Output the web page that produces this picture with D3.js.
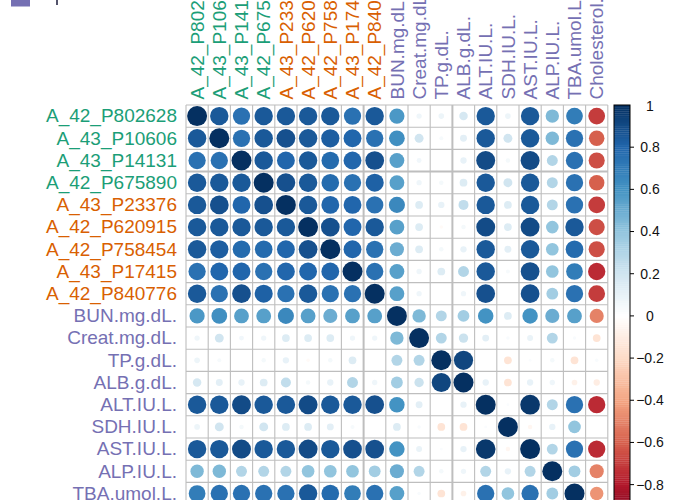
<!DOCTYPE html>
<html><head><meta charset="utf-8">
<script src="https://cdn.jsdelivr.net/npm/d3@7"></script>
<style>html,body{margin:0;padding:0;background:#fff;}svg{display:block;}</style>
</head><body>
<svg id="chart" width="680" height="500"></svg>
<script>
const labels = ["A_42_P802628","A_43_P10606","A_43_P14131","A_42_P675890","A_43_P23376","A_42_P620915","A_42_P758454","A_43_P17415","A_42_P840776","BUN.mg.dL.","Creat.mg.dL.","TP.g.dL.","ALB.g.dL.","ALT.IU.L.","SDH.IU.L.","AST.IU.L.","ALP.IU.L.","TBA.umol.L.","Cholesterol."];
const labelGroups = ["g","g","g","g","o","o","o","o","o","p","p","p","p","p","p","p","p","p","p"];
const corr = [
 [1,0.85,0.75,0.85,0.85,0.85,0.85,0.75,0.85,0.58,0.07,0.08,0.18,0.85,0.08,0.85,0.45,0.7,-0.7],
 [0.85,1,0.75,0.85,0.88,0.85,0.83,0.8,0.75,0.62,0.2,0.04,0.12,0.85,0.2,0.85,0.45,0.75,-0.6],
 [0.75,0.75,1,0.85,0.8,0.85,0.78,0.8,0.88,0.55,0.06,0.0,0.1,0.9,0.05,0.9,0.3,0.75,-0.65],
 [0.85,0.85,0.85,1,0.88,0.85,0.78,0.75,0.82,0.55,0.07,0.05,0.15,0.85,0.2,0.85,0.3,0.75,-0.6],
 [0.85,0.88,0.8,0.88,1,0.85,0.8,0.8,0.75,0.65,0.15,0.1,0.25,0.85,0.15,0.85,0.3,0.75,-0.7],
 [0.85,0.85,0.85,0.85,0.85,1,0.88,0.8,0.85,0.55,0.15,-0.03,0.05,0.9,0.15,0.9,0.4,0.85,-0.65],
 [0.85,0.83,0.78,0.78,0.8,0.88,1,0.8,0.75,0.5,0.15,0.05,0.1,0.85,0.12,0.85,0.4,0.78,-0.65],
 [0.75,0.8,0.8,0.75,0.8,0.8,0.8,1,0.75,0.55,0.07,0.15,0.3,0.85,0.04,0.88,0.4,0.7,-0.75],
 [0.85,0.75,0.88,0.82,0.75,0.85,0.75,0.75,1,0.55,0.07,0.0,0.07,0.88,0.0,0.88,0.35,0.75,-0.7],
 [0.58,0.62,0.55,0.55,0.65,0.55,0.5,0.55,0.55,1,0.45,0.3,0.35,0.6,0.15,0.6,0.5,0.55,-0.5],
 [0.07,0.2,0.06,0.07,0.15,0.15,0.15,0.07,0.07,0.45,1,0.3,0.22,0.12,0.03,0.09,0.3,0.03,-0.15],
 [0.08,0.04,0,0.05,0.1,-0.03,0.05,0.15,0,0.3,0.3,1,0.92,0,-0.15,0.02,0.05,-0.15,0.03],
 [0.18,0.12,0.1,0.15,0.25,0.05,0.1,0.3,0.07,0.35,0.22,0.92,1,0.1,-0.15,0.1,0.07,-0.08,-0.1],
 [0.85,0.85,0.9,0.85,0.85,0.9,0.85,0.85,0.88,0.6,0.12,0,0.1,1,0.02,0.97,0.3,0.75,-0.75],
 [0.08,0.2,0.05,0.2,0.15,0.15,0.12,0.04,0,0.15,0.03,-0.15,-0.15,0.02,1,-0.05,0.1,0.4,0],
 [0.85,0.85,0.9,0.85,0.85,0.9,0.85,0.88,0.88,0.6,0.09,0.02,0.1,0.97,-0.05,1,0.3,0.75,-0.75],
 [0.45,0.45,0.3,0.3,0.3,0.4,0.4,0.4,0.35,0.5,0.3,0.05,0.07,0.3,0.1,0.3,1,0.35,-0.5],
 [0.7,0.75,0.75,0.75,0.75,0.85,0.78,0.7,0.75,0.55,0.03,-0.15,-0.08,0.75,0.4,0.75,0.35,1,-0.45],
 [-0.7,-0.6,-0.65,-0.6,-0.7,-0.65,-0.65,-0.75,-0.7,-0.5,-0.15,0.03,-0.1,-0.75,0,-0.75,-0.5,-0.45,1]
];
const legendTicks = [1,0.8,0.6,0.4,0.2,0,-0.2,-0.4,-0.6,-0.8,-1];
const palette = ["#67001F","#B2182B","#D6604D","#F4A582","#FDDBC7","#FFFFFF","#D1E5F0","#92C5DE","#4393C3","#2166AC","#053061"];
const groupColors = {g:"#1B9E77", o:"#D95F02", p:"#7570B3"};

const svg = d3.select("#chart");
const font = "'Liberation Sans', Arial, sans-serif";
const leftX = 186, topY = 105, cell = 22.2, n = labels.length;
const x = d3.scaleBand().domain(labels).range([leftX, leftX + n*cell]);
const y = d3.scaleBand().domain(labels).range([topY, topY + n*cell]);
const color = d3.scaleLinear().domain(d3.range(11).map(i => -1 + i*0.2)).range(palette).interpolate(d3.interpolateRgb);

const cells = [];
corr.forEach((row, i) => row.forEach((v, j) => cells.push({r: labels[i], c: labels[j], v})));

const g = svg.append("g");
g.selectAll("rect.cell").data(cells).enter().append("rect")
  .attr("x", d => x(d.c)).attr("y", d => y(d.r))
  .attr("width", x.bandwidth()).attr("height", y.bandwidth())
  .attr("fill", "#fff");

const thickV = new Set([8,12]), thickH = new Set([3]);
for (let k = 0; k <= n; k++) {
  const px = leftX + k*cell;
  g.append("line").attr("x1", px).attr("x2", px).attr("y1", topY).attr("y2", topY + n*cell)
    .attr("stroke", "#bebebe").attr("stroke-width", thickV.has(k) ? 2 : 1.1);
  const py = topY + k*cell;
  g.append("line").attr("y1", py).attr("y2", py).attr("x1", leftX).attr("x2", leftX + n*cell)
    .attr("stroke", "#bebebe").attr("stroke-width", thickH.has(k) ? 2 : 1.1);
}

g.selectAll("circle").data(cells).enter().append("circle")
  .attr("cx", d => x(d.c) + x.bandwidth()/2)
  .attr("cy", d => y(d.r) + y.bandwidth()/2)
  .attr("r", d => 0.45 * Math.sqrt(Math.abs(d.v)) * cell)
  .attr("fill", d => color(d.v));

svg.append("g").selectAll("text").data(labels).enter().append("text")
  .attr("x", 177).attr("y", d => y(d) + y.bandwidth()/2)
  .attr("dy", "0.33em").attr("text-anchor", "end")
  .attr("font-family", font).attr("font-size", 19)
  .attr("fill", (d, i) => groupColors[labelGroups[i]])
  .text(d => d);

svg.append("g").selectAll("text").data(labels).enter().append("text")
  .attr("transform", d => `translate(${x(d) + x.bandwidth()/2},99.5) rotate(-90)`)
  .attr("dy", "0.35em").attr("text-anchor", "start")
  .attr("font-family", font).attr("font-size", 19)
  .attr("fill", (d, i) => groupColors[labelGroups[i]])
  .text(d => d);

const ly = d3.scaleLinear().domain([-1, 1]).range([topY + n*cell, topY]);
const lx = 614, lw = 16;
const steps = d3.range(200).map(i => -1 + (i + 0.5) * 0.01);
svg.append("g").selectAll("rect").data(steps).enter().append("rect")
  .attr("x", lx).attr("width", lw)
  .attr("y", d => ly(d + 0.005)).attr("height", ly(-1) - ly(-0.99) + 0.3)
  .attr("fill", d => color(d));
svg.append("rect").attr("x", lx).attr("y", topY).attr("width", lw).attr("height", n*cell)
  .attr("fill", "none").attr("stroke", "#000").attr("stroke-width", 1);
const lg = svg.append("g");
lg.selectAll("line").data(legendTicks.filter(d => d !== 1)).enter().append("line")
  .attr("x1", lx + lw).attr("x2", lx + lw + 4)
  .attr("y1", d => ly(d)).attr("y2", d => ly(d))
  .attr("stroke", "#000");
lg.selectAll("text").data(legendTicks).enter().append("text")
  .attr("x", 650).attr("y", d => ly(d) + (d === 1 ? 1.5 : 0)).attr("dy", "0.35em")
  .attr("text-anchor", "middle").attr("font-family", font).attr("font-size", 14)
  .attr("fill", "#111")
  .text(d => d < 0 ? "\u2212" + Math.abs(d) : String(d));

svg.append("rect").attr("x", 11).attr("y", 0).attr("width", 19).attr("height", 6.5).attr("fill", "#7570B3");
svg.append("line").attr("x1", 57).attr("x2", 57).attr("y1", 0).attr("y2", 5).attr("stroke", "#1a1a3a").attr("stroke-width", 1.5);
</script>
</body></html>
